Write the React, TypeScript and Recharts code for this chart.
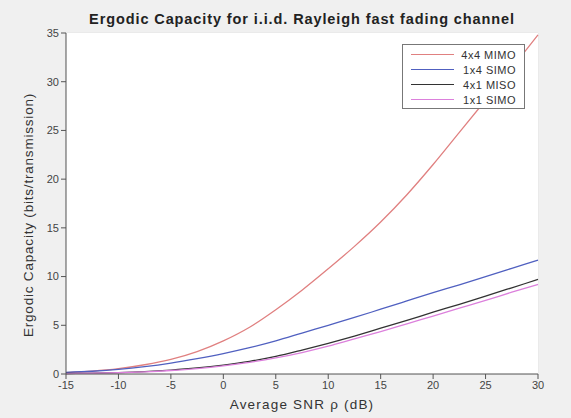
import { LineChart, Line, XAxis, YAxis, CartesianGrid } from 'recharts';

const snrDb = [-15, -12.5, -10, -7.5, -5, -2.5, 0, 2.5, 5, 7.5, 10, 12.5, 15, 17.5, 20, 22.5, 25, 27.5, 30];
const mimo4x4 = [0.15, 0.3, 0.55, 0.95, 1.5, 2.3, 3.4, 4.8, 6.6, 8.6, 10.8, 13.1, 15.6, 18.4, 21.5, 24.8, 28.1, 31.4, 34.8];
const simo1x4 = [0.16, 0.28, 0.47, 0.75, 1.12, 1.58, 2.1, 2.7, 3.4, 4.2, 5.0, 5.8, 6.65, 7.5, 8.35, 9.15, 10.0, 10.85, 11.7];
const miso4x1 = [0.05, 0.08, 0.14, 0.24, 0.4, 0.62, 0.92, 1.3, 1.8, 2.45, 3.15, 3.9, 4.7, 5.5, 6.35, 7.15, 8.0, 8.85, 9.7];
const siso1x1 = [0.045, 0.075, 0.13, 0.22, 0.36, 0.56, 0.84, 1.2, 1.65, 2.2, 2.85, 3.6, 4.35, 5.15, 5.95, 6.75, 7.55, 8.4, 9.2];

const xTicks = [-15, -10, -5, 0, 5, 10, 15, 20, 25, 30];
const yTicks = [0, 5, 10, 15, 20, 25, 30, 35];

const series = [
  { key: 'mimo', name: '4x4 MIMO', color: '#e08080' },
  { key: 'simo', name: '1x4 SIMO', color: '#5060c0' },
  { key: 'miso', name: '4x1 MISO', color: '#333333' },
  { key: 'siso', name: '1x1 SIMO', color: '#dc80dc' },
];

const data = snrDb.map((x, i) => ({
  snr: x,
  mimo: mimo4x4[i],
  simo: simo1x4[i],
  miso: miso4x1[i],
  siso: siso1x1[i],
}));

const font = '"Liberation Sans", Arial, sans-serif';
const tickStyle = { fontSize: 11, fill: '#444', fontFamily: font };

export default function App() {
  return (
    <div style={{ position: 'absolute', left: 0, top: 0, width: 571, height: 418, background: '#f0f0f0', fontFamily: font }}>
      <div
        style={{
          position: 'absolute',
          left: 302,
          top: 19,
          transform: 'translate(-50%, -50%)',
          whiteSpace: 'nowrap',
          fontWeight: 'bold',
          fontSize: 14.5,
          letterSpacing: 0.9,
          color: '#222',
        }}
      >
        Ergodic Capacity for i.i.d. Rayleigh fast fading channel
      </div>
      <LineChart width={571} height={418} data={data} margin={{ top: 33, right: 33, bottom: 20, left: 26 }}>
        <rect x={66} y={33} width={472} height={341} fill="#fff" />
        <CartesianGrid stroke="#e4e4e4" vertical horizontal />
        <XAxis
          dataKey="snr"
          type="number"
          domain={[-15, 30]}
          ticks={xTicks}
          tick={tickStyle}
          stroke="#555"
          height={24}
          tickSize={5}
        />
        <XAxis xAxisId="top" orientation="top" dataKey="snr" type="number" domain={[-15, 30]} ticks={xTicks} tick={false} stroke="#555" height={0} />
        <YAxis
          type="number"
          domain={[0, 35]}
          ticks={yTicks}
          tick={tickStyle}
          stroke="#555"
          width={40}
          tickSize={5}
        />
        <YAxis yAxisId="right" orientation="right" type="number" domain={[0, 35]} ticks={yTicks} tick={false} stroke="#555" width={0} />
        {series.map((s) => (
          <Line
            key={s.key}
            type="monotone"
            dataKey={s.key}
            name={s.name}
            stroke={s.color}
            strokeWidth={1.3}
            dot={false}
            isAnimationActive={false}
          />
        ))}
      </LineChart>
      <div
        style={{
          position: 'absolute',
          left: 402,
          top: 44,
          width: 123,
          height: 65,
          background: '#fff',
          border: '1px solid #777',
          padding: '2px 0',
          boxSizing: 'border-box',
        }}
      >
        {series.map((s) => (
          <div key={s.key} style={{ display: 'flex', alignItems: 'center', height: 15, fontSize: 11, letterSpacing: 0.5, color: '#333' }}>
            <div style={{ marginLeft: 8, width: 43, height: 1.5, background: s.color }} />
            <div style={{ marginLeft: 'auto', marginRight: 8 }}>{s.name}</div>
          </div>
        ))}
      </div>
      <div
        style={{
          position: 'absolute',
          left: 302,
          top: 404,
          transform: 'translate(-50%, -50%)',
          whiteSpace: 'nowrap',
          fontSize: 13.5,
          letterSpacing: 1.2,
          color: '#333',
        }}
      >
        Average SNR ρ (dB)
      </div>
      <div
        style={{
          position: 'absolute',
          left: 28,
          top: 215,
          transform: 'translate(-50%, -50%) rotate(-90deg)',
          whiteSpace: 'nowrap',
          fontSize: 13.5,
          letterSpacing: 0.8,
          color: '#333',
        }}
      >
        Ergodic Capacity (bits/transmission)
      </div>
    </div>
  );
}
